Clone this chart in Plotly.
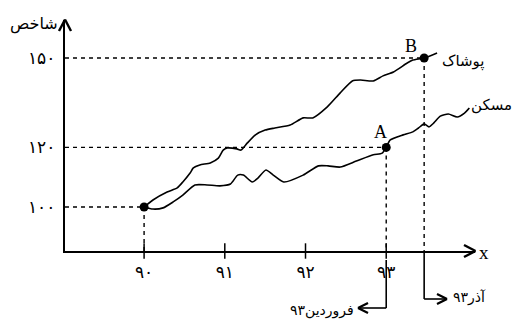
import plotly.graph_objects as go

# ---------------- data ----------------
x_ticks = [90, 91, 92, 93]
x_tick_labels = ["۹۰", "۹۱", "۹۲", "۹۳"]
y_ticks = [100, 120, 150]
y_tick_labels = ["۱۰۰", "۱۲۰", "۱۵۰"]

clothing_x = [90, 90.11, 90.285, 90.41, 90.48, 90.57, 90.61, 90.69, 90.82, 90.92, 90.98,
              91.03, 91.15, 91.20, 91.28, 91.38, 91.50, 91.62, 91.81, 91.97, 92.09,
              92.27, 92.43, 92.58, 92.68, 92.84, 92.96, 93.09, 93.26, 93.33, 93.47, 93.63]
clothing_y = [100, 102.35, 105.0, 106.4, 108.4, 111.4, 113.1, 114.1, 114.8, 116.4, 119.1,
              119.8, 119.5, 119.1, 121.5, 124.2, 125.8, 126.5, 127.5, 129.9, 129.9,
              133.6, 138.3, 142.3, 142.6, 142.3, 144.0, 145.3, 148.3, 149.3, 150, 151.7]

housing_x = [90, 90.11, 90.235, 90.36, 90.48, 90.63, 90.78, 90.94, 91.07, 91.16, 91.23,
             91.34, 91.41, 91.51, 91.60, 91.73, 91.97, 92.16, 92.28, 92.43, 92.63,
             92.84, 92.95, 93, 93.05, 93.21, 93.33, 93.40, 93.47, 93.53, 93.59, 93.67,
             93.77, 93.88, 93.97, 94.03]
housing_y = [100, 99.3, 99.7, 101.7, 104.0, 107.4, 107.4, 107.1, 107.7, 110.7, 110.7,
             108.4, 109.7, 112.4, 110.7, 108.4, 110.7, 113.8, 113.8, 113.4, 115.4,
             117.5, 118.1, 120, 122.5, 124.2, 125.2, 126.5, 127.9, 126.9, 128.2, 130.5,
             131.2, 130.2, 131.5, 133.2]

start_pt = (90, 100)
point_A = (93, 120)
point_B = (93.47, 150)

series_names = ["پوشاک", "مسکن"]
axis_title_y = "شاخص"
axis_title_x = "x"
label_A_date = "فروردین۹۳"
label_B_date = "آذر۹۳"

# ---------------- layout geometry ----------------
W, H = 515, 319
ML, MR, MT, MB = 65, 40, 20, 68
XR = [89.02, 94.10]
YR = [85.23, 162.75]
PW, PH = W - ML - MR, H - MT - MB

def pxp(px):  # pixel x -> paper
    return (px - ML) / PW

def pyp(py):  # pixel y -> paper
    return (H - MB - py) / PH

def dx2p(x):  # data x -> paper
    return (x - XR[0]) / (XR[1] - XR[0])

fig = go.Figure()

line_style = dict(color="black", width=1.6, shape="spline", smoothing=0.6)
fig.add_trace(go.Scatter(x=clothing_x, y=clothing_y, mode="lines", line=line_style,
                         name=series_names[0], hoverinfo="skip"))
fig.add_trace(go.Scatter(x=housing_x, y=housing_y, mode="lines", line=line_style,
                         name=series_names[1], hoverinfo="skip"))

# dashed guide lines
dash = dict(color="black", width=1.4, dash="4px,4px")
for (px_, py_) in [start_pt, point_A, point_B]:
    fig.add_trace(go.Scatter(x=[XR[0], px_], y=[py_, py_], mode="lines", line=dash,
                             hoverinfo="skip"))
    fig.add_trace(go.Scatter(x=[px_, px_], y=[py_, YR[0]], mode="lines", line=dash,
                             hoverinfo="skip"))

# points
fig.add_trace(go.Scatter(x=[start_pt[0], point_A[0], point_B[0]],
                         y=[start_pt[1], point_A[1], point_B[1]],
                         mode="markers", marker=dict(color="black", size=9),
                         hoverinfo="skip"))

# tick marks crossing the x axis
fig.add_trace(go.Scatter(x=x_ticks, y=[YR[0]] * len(x_ticks), mode="markers",
                         marker=dict(symbol="line-ns-open", size=11, color="black",
                                     line=dict(color="black", width=1.5)),
                         cliponaxis=False, hoverinfo="skip"))

shapes = []
def seg(x0, y0, x1, y1, w=1.6):
    shapes.append(dict(type="line", xref="paper", yref="paper", x0=x0, y0=y0, x1=x1, y1=y1,
                       line=dict(color="black", width=w)))

# axis arrowheads (chevrons)
seg(pxp(464), pyp(245), pxp(475.5), pyp(251), 2.4)
seg(pxp(464), pyp(257), pxp(475.5), pyp(251), 2.4)
seg(pxp(59), pyp(31), pxp(65), pyp(19.5), 2.4)
seg(pxp(71), pyp(31), pxp(65), pyp(19.5), 2.4)

# bottom call-out arrows
xa = dx2p(point_A[0])
seg(xa, pyp(260), xa, pyp(308))
seg(xa, pyp(308), pxp(358), pyp(308))
seg(pxp(358), pyp(308), pxp(368), pyp(303), 2.2)
seg(pxp(358), pyp(308), pxp(368), pyp(313), 2.2)

xb = dx2p(point_B[0])
seg(xb, pyp(251), xb, pyp(299))
seg(xb, pyp(299), pxp(447), pyp(299))
seg(pxp(447), pyp(299), pxp(437), pyp(294), 2.2)
seg(pxp(447), pyp(299), pxp(437), pyp(304), 2.2)

fa = "DejaVu Sans"
fs = "Liberation Serif"
ann = []
def txt(x, y, s, font, size, xanchor="center"):
    ann.append(dict(x=x, y=y, xref="paper", yref="paper", text=s, showarrow=False,
                    xanchor=xanchor, yanchor="middle", font=dict(family=font, size=size,
                                                                  color="black")))

txt(pxp(34), pyp(24), axis_title_y, fa, 16)
txt(pxp(484), pyp(252), axis_title_x, fs, 19)
txt(pxp(380), pyp(132), "A", fs, 18)
txt(pxp(411), pyp(46), "B", fs, 18)
txt(pxp(463), pyp(61), series_names[0], fa, 15)
txt(pxp(514), pyp(105), series_names[1], fa, 15, "right")
txt(pxp(356), pyp(310), label_A_date, fa, 14, "right")
txt(pxp(451), pyp(297), label_B_date, fa, 14, "left")

fig.update_layout(
    width=W, height=H, margin=dict(l=ML, r=MR, t=MT, b=MB, autoexpand=False),
    plot_bgcolor="white", paper_bgcolor="white", showlegend=False,
    shapes=shapes, annotations=ann,
    xaxis=dict(range=XR, showgrid=False, zeroline=False, showline=True, linecolor="black",
               linewidth=2.4, tickvals=x_ticks, ticktext=x_tick_labels, ticks="",
               automargin=False,
               ticklabelstandoff=4, tickfont=dict(family=fa, size=17, color="black")),
    yaxis=dict(range=YR, showgrid=False, zeroline=False, showline=True, linecolor="black",
               linewidth=2.4, tickvals=y_ticks, ticktext=y_tick_labels, ticks="",
               automargin=False,
               ticklabelstandoff=4, tickfont=dict(family=fa, size=17, color="black")),
)

fig.write_html("out.html", config={"displayModeBar": False},
               post_script="document.body.style.margin='0';document.body.style.overflow='hidden';")
